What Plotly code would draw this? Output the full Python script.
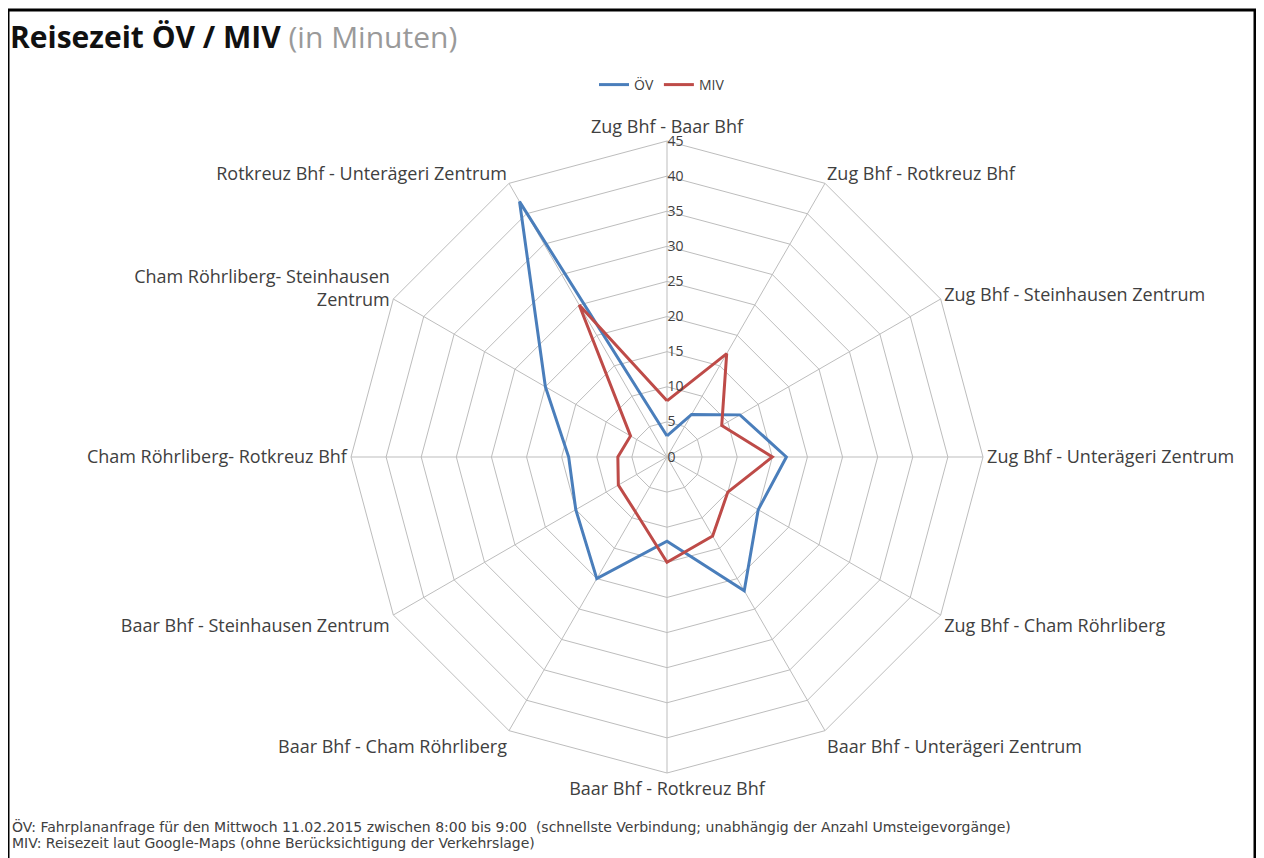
import plotly.graph_objects as go

# Strecken (im Uhrzeigersinn ab oben)
strecken = [
    'Zug Bhf - Baar Bhf',
    'Zug Bhf - Rotkreuz Bhf',
    'Zug Bhf - Steinhausen Zentrum',
    'Zug Bhf - Unterägeri Zentrum',
    'Zug Bhf - Cham Röhrliberg',
    'Baar Bhf - Unterägeri Zentrum',
    'Baar Bhf - Rotkreuz Bhf',
    'Baar Bhf - Cham Röhrliberg',
    'Baar Bhf - Steinhausen Zentrum',
    'Cham Röhrliberg- Rotkreuz Bhf',
    'Cham Röhrliberg- Steinhausen<br>Zentrum',
    'Rotkreuz Bhf - Unterägeri Zentrum',
]
oev = [3, 7, 12, 17, 15, 22, 12, 20, 15, 14, 20, 42]
miv = [8, 17, 9, 15, 10, 13, 15, 9, 8, 7, 6, 25]
radial_ticks = [0, 5, 10, 15, 20, 25, 30, 35, 40, 45]

# page body has an 8px margin, so everything is placed 8px up/left
W, H = 1248, 850
cx, cy, R = 659, 449, 316

fig = go.Figure()
fig.add_trace(go.Scatterpolar(r=oev + oev[:1], theta=strecken + strecken[:1], mode='lines',
                              name='ÖV', line=dict(color='#4a7ebb', width=3)))
fig.add_trace(go.Scatterpolar(r=miv + miv[:1], theta=strecken + strecken[:1], mode='lines',
                              name='MIV', line=dict(color='#be4b48', width=3)))

fig.update_layout(
    width=W, height=H,
    margin=dict(l=0, r=0, t=0, b=0),
    paper_bgcolor='white',
    font=dict(family='Open Sans', color='#404040'),
    title=dict(
        text="<b>Reisezeit ÖV / MIV</b> <span style='color:#9a9a9a'>(in Minuten)</span>",
        x=2 / W, xanchor='left', y=1 - 29 / H, yanchor='middle', yref='container',
        font=dict(size=30, color='#111111', family='Open Sans'),
    ),
    legend=dict(orientation='h', x=654 / W, xanchor='center', y=1 - 77 / H, yanchor='middle',
                font=dict(size=14, color='#404040'), tracegroupgap=0),
    polar=dict(
        domain=dict(x=[(cx - R) / W, (cx + R) / W], y=[1 - (cy + R) / H, 1 - (cy - R) / H]),
        bgcolor='white',
        gridshape='linear',
        angularaxis=dict(direction='clockwise', rotation=90, showline=True,
                         linecolor='#bdbdbd', linewidth=1, gridcolor='#bdbdbd',
                         ticks='', tickfont=dict(size=18, color='#404040')),
        radialaxis=dict(range=[0, 45], tickvals=radial_ticks, angle=90, tickangle=90,
                        side='clockwise', showline=False, ticks='',
                        gridcolor='#bdbdbd', tickfont=dict(size=14, color='#404040')),
    ),
    shapes=[dict(type='rect', xref='paper', yref='paper',
                 x0=0, x1=(W - 1) / W, y0=-0.05, y1=1 - 2 / H,
                 line=dict(color='black', width=3))],
    annotations=[
        dict(text='ÖV: Fahrplananfrage für den Mittwoch 11.02.2015 zwischen 8:00 bis 9:00  '
                  '(schnellste Verbindung; unabhängig der Anzahl Umsteigevorgänge)',
             x=2 / W, y=1 - 818 / H, xref='paper', yref='paper', xanchor='left', yanchor='middle',
             showarrow=False, font=dict(size=14, color='#404040', family='DejaVu Sans')),
        dict(text='MIV: Reisezeit laut Google-Maps (ohne Berücksichtigung der Verkehrslage)',
             x=2 / W, y=1 - 835 / H, xref='paper', yref='paper', xanchor='left', yanchor='middle',
             showarrow=False, font=dict(size=14, color='#404040', family='DejaVu Sans')),
    ],
)

fig.write_html('out.html')
